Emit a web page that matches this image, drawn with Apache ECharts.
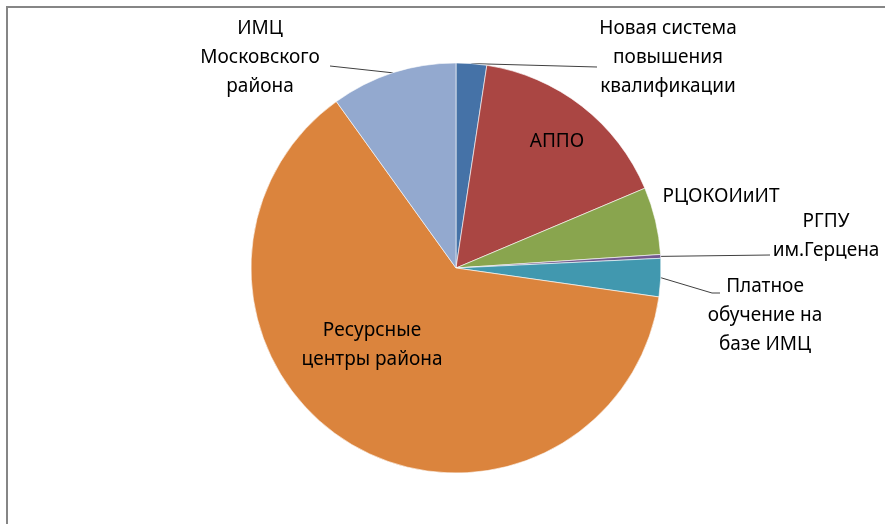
<!DOCTYPE html>
<html>
<head>
<meta charset="utf-8">
<script src="https://cdn.jsdelivr.net/npm/echarts@6/dist/echarts.min.js"></script>
<style>
  html, body { margin: 0; padding: 0; background: #fff; }
  #chart { width: 885px; height: 524px; }
</style>
</head>
<body>
<div id="chart"></div>
<script>
// доли слушателей по источникам обучения (%)
let categories = [
  'Новая система повышения квалификации',
  'АППО',
  'РЦОКОИиИТ',
  'РГПУ им.Герцена',
  'Платное обучение на базе ИМЦ',
  'Ресурсные центры района',
  'ИМЦ Московского района'
]
let labelText = [
  'Новая система\nповышения\nквалификации',
  'АППО',
  'РЦОКОИиИТ',
  'РГПУ\nим.Герцена',
  'Платное\nобучение на\nбазе ИМЦ',
  'Ресурсные\nцентры района',
  'ИМЦ\nМосковского\nрайона'
]
let values = [2.4, 16.2, 5.3, 0.3, 3.0, 62.7, 9.9]
let colors = ['#4572A7', '#AA4643', '#89A54E', '#71588F', '#4198AF', '#DB843D', '#93A9CF']

// где стоят подписи и куда подходят выноски
let labelPos = [
  [668, 58], [557, 142], [721, 197], [826, 236], [765, 316], [372, 345], [260, 58]
]
let leaderEnd = [
  [[597, 67]], null, null, [[770, 255]], [[712, 293], [720, 293]], null, [[330, 66]]
]

let myChart = echarts.init(document.getElementById('chart'))

let pieData = values.map(function(v, i) {
  return {
    name: categories[i],
    value: v,
    itemStyle: { color: colors[i] },
    labelLine: { show: leaderEnd[i] !== null }
  }
})

let option = {
  animation: false,
  graphic: [{
    type: 'polyline',
    shape: { points: [[7, 530], [7, 7], [890, 7]] },
    style: { stroke: '#868686', lineWidth: 2, fill: null }
  }],
  series: [{
    type: 'pie',
    center: [456, 268],
    radius: 205,
    startAngle: 90,
    clockwise: true,
    data: pieData,
    itemStyle: { borderColor: '#fff', borderWidth: 0.6 },
    label: {
      show: true,
      position: 'outside',
      color: '#000',
      fontFamily: 'Noto Sans',
      fontSize: 19,
      lineHeight: 29,
      align: 'center',
      formatter: function(p) {
        return labelText[p.dataIndex]
      }
    },
    labelLine: {
      show: true,
      length: 10,
      length2: 10,
      lineStyle: { color: '#404040', width: 1 }
    },
    labelLayout: function(params) {
      let i = params.dataIndex
      let p = labelPos[i]
      let res = {
        x: p[0],
        y: p[1],
        align: 'center',
        verticalAlign: 'middle',
        moveOverlap: null
      }
      if (leaderEnd[i] && params.labelLinePoints) {
        res.labelLinePoints = [params.labelLinePoints[0]].concat(leaderEnd[i])
      }
      return res
    }
  }]
}

myChart.setOption(option)
</script>
</body>
</html>
